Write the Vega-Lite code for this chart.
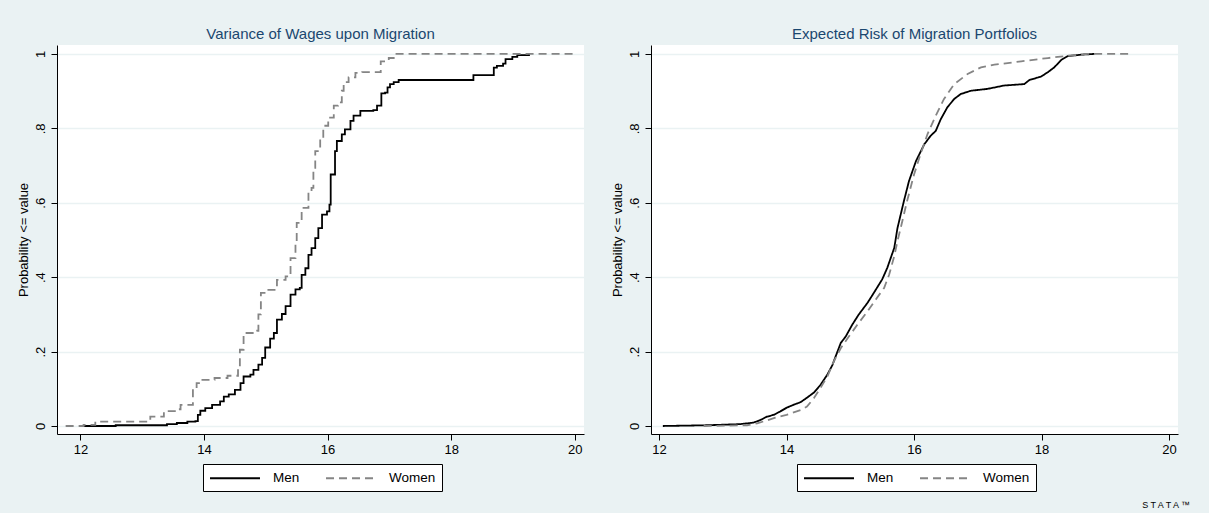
{
  "$schema": "https://vega.github.io/schema/vega-lite/v6.json",
  "background": "#eaf2f3",
  "padding": {"left": 17, "top": 27, "right": 20, "bottom": 3},
  "title": {"text": "S   T   A   T   A   ™", "orient": "bottom", "anchor": "end", "fontSize": 9, "fontWeight": "normal", "color": "black", "offset": 9, "dx": 12, "font": "Liberation Sans"},
  "config": {
    "font": "Liberation Sans",
    "view": {"fill": "white", "stroke": null},
    "concat": {"spacing": 27},
    "axis": {
      "domainColor": "black", "domainWidth": 1, "tickColor": "black", "tickWidth": 1, "tickSize": 6,
      "labelColor": "black", "titleColor": "black", "labelFont": "Liberation Sans", "titleFont": "Liberation Sans",
      "labelFontSize": 13, "titleFontSize": 13, "titleFontWeight": "normal",
      "gridColor": "#eaf2f3", "gridOpacity": 1, "gridWidth": 1.3
    },
    "legend": {"labelFont": "Liberation Sans"}
  },
  "datasets": {
    "wages": [
      {"group": "Men", "value": 12.03, "prob": 0},
      {"group": "Men", "value": 12.57, "prob": 0.002},
      {"group": "Men", "value": 13.40, "prob": 0.005},
      {"group": "Men", "value": 13.56, "prob": 0.008},
      {"group": "Men", "value": 13.73, "prob": 0.012},
      {"group": "Men", "value": 13.86, "prob": 0.013},
      {"group": "Men", "value": 13.90, "prob": 0.03},
      {"group": "Men", "value": 13.94, "prob": 0.041},
      {"group": "Men", "value": 14.02, "prob": 0.048},
      {"group": "Men", "value": 14.13, "prob": 0.057},
      {"group": "Men", "value": 14.26, "prob": 0.066},
      {"group": "Men", "value": 14.32, "prob": 0.079},
      {"group": "Men", "value": 14.40, "prob": 0.085},
      {"group": "Men", "value": 14.50, "prob": 0.097},
      {"group": "Men", "value": 14.59, "prob": 0.115},
      {"group": "Men", "value": 14.64, "prob": 0.133},
      {"group": "Men", "value": 14.75, "prob": 0.138},
      {"group": "Men", "value": 14.80, "prob": 0.151},
      {"group": "Men", "value": 14.88, "prob": 0.165},
      {"group": "Men", "value": 14.94, "prob": 0.183},
      {"group": "Men", "value": 14.99, "prob": 0.211},
      {"group": "Men", "value": 15.07, "prob": 0.235},
      {"group": "Men", "value": 15.13, "prob": 0.25},
      {"group": "Men", "value": 15.18, "prob": 0.286},
      {"group": "Men", "value": 15.26, "prob": 0.301},
      {"group": "Men", "value": 15.32, "prob": 0.322},
      {"group": "Men", "value": 15.40, "prob": 0.353},
      {"group": "Men", "value": 15.48, "prob": 0.367},
      {"group": "Men", "value": 15.55, "prob": 0.371},
      {"group": "Men", "value": 15.58, "prob": 0.406},
      {"group": "Men", "value": 15.64, "prob": 0.424},
      {"group": "Men", "value": 15.69, "prob": 0.46},
      {"group": "Men", "value": 15.74, "prob": 0.478},
      {"group": "Men", "value": 15.80, "prob": 0.505},
      {"group": "Men", "value": 15.85, "prob": 0.532},
      {"group": "Men", "value": 15.91, "prob": 0.568},
      {"group": "Men", "value": 15.99, "prob": 0.577},
      {"group": "Men", "value": 16.03, "prob": 0.595},
      {"group": "Men", "value": 16.05, "prob": 0.676},
      {"group": "Men", "value": 16.12, "prob": 0.739},
      {"group": "Men", "value": 16.15, "prob": 0.766},
      {"group": "Men", "value": 16.23, "prob": 0.784},
      {"group": "Men", "value": 16.28, "prob": 0.797},
      {"group": "Men", "value": 16.37, "prob": 0.82},
      {"group": "Men", "value": 16.42, "prob": 0.834},
      {"group": "Men", "value": 16.53, "prob": 0.847},
      {"group": "Men", "value": 16.74, "prob": 0.849},
      {"group": "Men", "value": 16.80, "prob": 0.861},
      {"group": "Men", "value": 16.87, "prob": 0.894},
      {"group": "Men", "value": 16.93, "prob": 0.896},
      {"group": "Men", "value": 16.97, "prob": 0.91},
      {"group": "Men", "value": 17.01, "prob": 0.919},
      {"group": "Men", "value": 17.07, "prob": 0.924},
      {"group": "Men", "value": 17.15, "prob": 0.93},
      {"group": "Men", "value": 18.36, "prob": 0.943},
      {"group": "Men", "value": 18.69, "prob": 0.963},
      {"group": "Men", "value": 18.74, "prob": 0.968},
      {"group": "Men", "value": 18.84, "prob": 0.974},
      {"group": "Men", "value": 18.88, "prob": 0.986},
      {"group": "Men", "value": 18.99, "prob": 0.992},
      {"group": "Men", "value": 19.07, "prob": 0.997},
      {"group": "Men", "value": 19.26, "prob": 1.0},
      {"group": "Women", "value": 11.76, "prob": 0},
      {"group": "Women", "value": 12.05, "prob": 0.003},
      {"group": "Women", "value": 12.24, "prob": 0.012},
      {"group": "Women", "value": 13.13, "prob": 0.025},
      {"group": "Women", "value": 13.35, "prob": 0.04},
      {"group": "Women", "value": 13.56, "prob": 0.045},
      {"group": "Women", "value": 13.62, "prob": 0.057},
      {"group": "Women", "value": 13.82, "prob": 0.1},
      {"group": "Women", "value": 13.88, "prob": 0.115},
      {"group": "Women", "value": 13.95, "prob": 0.124},
      {"group": "Women", "value": 14.17, "prob": 0.129},
      {"group": "Women", "value": 14.38, "prob": 0.135},
      {"group": "Women", "value": 14.55, "prob": 0.157},
      {"group": "Women", "value": 14.58, "prob": 0.205},
      {"group": "Women", "value": 14.64, "prob": 0.25},
      {"group": "Women", "value": 14.86, "prob": 0.256},
      {"group": "Women", "value": 14.88, "prob": 0.30},
      {"group": "Women", "value": 14.92, "prob": 0.358},
      {"group": "Women", "value": 15.02, "prob": 0.366},
      {"group": "Women", "value": 15.18, "prob": 0.393},
      {"group": "Women", "value": 15.32, "prob": 0.402},
      {"group": "Women", "value": 15.40, "prob": 0.451},
      {"group": "Women", "value": 15.48, "prob": 0.496},
      {"group": "Women", "value": 15.50, "prob": 0.546},
      {"group": "Women", "value": 15.58, "prob": 0.586},
      {"group": "Women", "value": 15.69, "prob": 0.631},
      {"group": "Women", "value": 15.74, "prob": 0.64},
      {"group": "Women", "value": 15.77, "prob": 0.694},
      {"group": "Women", "value": 15.80, "prob": 0.739},
      {"group": "Women", "value": 15.88, "prob": 0.775},
      {"group": "Women", "value": 15.93, "prob": 0.807},
      {"group": "Women", "value": 16.01, "prob": 0.829},
      {"group": "Women", "value": 16.10, "prob": 0.861},
      {"group": "Women", "value": 16.17, "prob": 0.87},
      {"group": "Women", "value": 16.23, "prob": 0.901},
      {"group": "Women", "value": 16.26, "prob": 0.924},
      {"group": "Women", "value": 16.34, "prob": 0.937},
      {"group": "Women", "value": 16.45, "prob": 0.949},
      {"group": "Women", "value": 16.56, "prob": 0.951},
      {"group": "Women", "value": 16.86, "prob": 0.98},
      {"group": "Women", "value": 16.99, "prob": 0.989},
      {"group": "Women", "value": 17.07, "prob": 1.0},
      {"group": "Women", "value": 20.0, "prob": 1.0}
    ],
    "risk": [
      {"group": "Men", "value": 12.06, "prob": 0},
      {"group": "Men", "value": 12.75, "prob": 0.002},
      {"group": "Men", "value": 13.27, "prob": 0.005},
      {"group": "Men", "value": 13.48, "prob": 0.009},
      {"group": "Men", "value": 13.59, "prob": 0.016},
      {"group": "Men", "value": 13.69, "prob": 0.025},
      {"group": "Men", "value": 13.80, "prob": 0.03},
      {"group": "Men", "value": 13.90, "prob": 0.039},
      {"group": "Men", "value": 14.00, "prob": 0.049},
      {"group": "Men", "value": 14.11, "prob": 0.057},
      {"group": "Men", "value": 14.22, "prob": 0.064},
      {"group": "Men", "value": 14.32, "prob": 0.076},
      {"group": "Men", "value": 14.43, "prob": 0.09},
      {"group": "Men", "value": 14.53, "prob": 0.11},
      {"group": "Men", "value": 14.64, "prob": 0.138},
      {"group": "Men", "value": 14.72, "prob": 0.164},
      {"group": "Men", "value": 14.77, "prob": 0.187},
      {"group": "Men", "value": 14.85, "prob": 0.223},
      {"group": "Men", "value": 14.93, "prob": 0.241},
      {"group": "Men", "value": 15.03, "prob": 0.272},
      {"group": "Men", "value": 15.13, "prob": 0.299},
      {"group": "Men", "value": 15.27, "prob": 0.331},
      {"group": "Men", "value": 15.37, "prob": 0.358},
      {"group": "Men", "value": 15.50, "prob": 0.394},
      {"group": "Men", "value": 15.58, "prob": 0.425},
      {"group": "Men", "value": 15.69, "prob": 0.479},
      {"group": "Men", "value": 15.74, "prob": 0.532},
      {"group": "Men", "value": 15.84, "prob": 0.604},
      {"group": "Men", "value": 15.92, "prob": 0.658},
      {"group": "Men", "value": 16.03, "prob": 0.712},
      {"group": "Men", "value": 16.16, "prob": 0.757},
      {"group": "Men", "value": 16.26, "prob": 0.78},
      {"group": "Men", "value": 16.34, "prob": 0.793},
      {"group": "Men", "value": 16.42, "prob": 0.825},
      {"group": "Men", "value": 16.52, "prob": 0.856},
      {"group": "Men", "value": 16.63, "prob": 0.879},
      {"group": "Men", "value": 16.73, "prob": 0.892},
      {"group": "Men", "value": 16.89, "prob": 0.901},
      {"group": "Men", "value": 17.15, "prob": 0.906},
      {"group": "Men", "value": 17.41, "prob": 0.915},
      {"group": "Men", "value": 17.73, "prob": 0.919},
      {"group": "Men", "value": 17.81, "prob": 0.93},
      {"group": "Men", "value": 17.99, "prob": 0.939},
      {"group": "Men", "value": 18.10, "prob": 0.951},
      {"group": "Men", "value": 18.20, "prob": 0.964},
      {"group": "Men", "value": 18.31, "prob": 0.984},
      {"group": "Men", "value": 18.41, "prob": 0.994},
      {"group": "Men", "value": 18.62, "prob": 0.998},
      {"group": "Men", "value": 18.83, "prob": 1.0},
      {"group": "Women", "value": 12.70, "prob": 0},
      {"group": "Women", "value": 13.38, "prob": 0.002},
      {"group": "Women", "value": 13.54, "prob": 0.007},
      {"group": "Women", "value": 13.80, "prob": 0.021},
      {"group": "Women", "value": 14.00, "prob": 0.03},
      {"group": "Women", "value": 14.22, "prob": 0.043},
      {"group": "Women", "value": 14.32, "prob": 0.052},
      {"group": "Women", "value": 14.43, "prob": 0.075},
      {"group": "Women", "value": 14.53, "prob": 0.102},
      {"group": "Women", "value": 14.64, "prob": 0.133},
      {"group": "Women", "value": 14.74, "prob": 0.173},
      {"group": "Women", "value": 14.85, "prob": 0.209},
      {"group": "Women", "value": 14.98, "prob": 0.241},
      {"group": "Women", "value": 15.11, "prob": 0.272},
      {"group": "Women", "value": 15.27, "prob": 0.308},
      {"group": "Women", "value": 15.40, "prob": 0.34},
      {"group": "Women", "value": 15.53, "prob": 0.371},
      {"group": "Women", "value": 15.61, "prob": 0.407},
      {"group": "Women", "value": 15.69, "prob": 0.457},
      {"group": "Women", "value": 15.74, "prob": 0.497},
      {"group": "Women", "value": 15.79, "prob": 0.532},
      {"group": "Women", "value": 15.89, "prob": 0.604},
      {"group": "Women", "value": 16.00, "prob": 0.676},
      {"group": "Women", "value": 16.10, "prob": 0.73},
      {"group": "Women", "value": 16.21, "prob": 0.784},
      {"group": "Women", "value": 16.34, "prob": 0.834},
      {"group": "Women", "value": 16.47, "prob": 0.879},
      {"group": "Women", "value": 16.63, "prob": 0.919},
      {"group": "Women", "value": 16.84, "prob": 0.946},
      {"group": "Women", "value": 17.05, "prob": 0.964},
      {"group": "Women", "value": 17.26, "prob": 0.971},
      {"group": "Women", "value": 17.68, "prob": 0.98},
      {"group": "Women", "value": 18.10, "prob": 0.989},
      {"group": "Women", "value": 18.41, "prob": 0.995},
      {"group": "Women", "value": 18.73, "prob": 1.0},
      {"group": "Women", "value": 19.36, "prob": 1.0}
    ]
  },
  "hconcat": [
    {
      "title": {"text": "Variance of Wages upon Migration", "fontSize": 15, "fontWeight": "normal", "color": "#1a476f", "anchor": "middle", "frame": "group", "offset": 3},
      "width": 527,
      "height": 389,
      "data": {"name": "wages"},
      "mark": {"type": "line", "interpolate": "step-after", "strokeWidth": 1.8},
      "encoding": {
        "x": {"field": "value", "type": "quantitative", "scale": {"domain": [11.62, 20.15], "nice": false, "zero": false}, "axis": {"values": [12, 14, 16, 18, 20], "title": null, "grid": false, "labelPadding": 3}},
        "y": {"field": "prob", "type": "quantitative", "scale": {"domain": [-0.0215, 1.024], "nice": false, "zero": false}, "axis": {"values": [0, 0.2, 0.4, 0.6, 0.8, 1], "title": "Probability <= value", "labelAngle": -90, "labelAlign": "center", "labelBaseline": "bottom", "labelPadding": 4, "titlePadding": 4, "labelExpr": "datum.value == 0 ? '0' : datum.value == 1 ? '1' : replace(format(datum.value, '.1f'), '0.', '.')"}},
        "color": {"field": "group", "type": "nominal", "scale": {"domain": ["Men", "Women"], "range": ["#000000", "#858585"]}, "legend": {"title": null, "orient": "none", "legendX": 146, "legendY": 419, "direction": "horizontal", "symbolType": "M-3.57,0H3.57", "symbolSize": 196, "symbolOffset": 18, "symbolStrokeWidth": 1.8, "labelFontSize": 13.5, "labelColor": "black", "labelOffset": 30, "columnPadding": 22, "padding": 6, "fillColor": "white", "strokeColor": "black"}},
        "strokeDash": {"field": "group", "type": "nominal", "scale": {"domain": ["Men", "Women"], "range": [[1, 0], [8, 5]]}, "legend": {"title": null, "orient": "none", "legendX": 146, "legendY": 419, "direction": "horizontal", "symbolType": "M-3.57,0H3.57", "symbolSize": 196, "symbolOffset": 18, "symbolStrokeWidth": 1.8, "labelFontSize": 13.5, "labelColor": "black", "labelOffset": 30, "columnPadding": 22, "padding": 6, "fillColor": "white", "strokeColor": "black"}}
      }
    },
    {
      "title": {"text": "Expected Risk of Migration Portfolios", "fontSize": 15, "fontWeight": "normal", "color": "#1a476f", "anchor": "middle", "frame": "group", "offset": 3},
      "width": 527,
      "height": 389,
      "data": {"name": "risk"},
      "mark": {"type": "line", "interpolate": "linear", "strokeWidth": 1.8},
      "encoding": {
        "x": {"field": "value", "type": "quantitative", "scale": {"domain": [11.874, 20.14], "nice": false, "zero": false}, "axis": {"values": [12, 14, 16, 18, 20], "title": null, "grid": false, "labelPadding": 3}},
        "y": {"field": "prob", "type": "quantitative", "scale": {"domain": [-0.0215, 1.024], "nice": false, "zero": false}, "axis": {"values": [0, 0.2, 0.4, 0.6, 0.8, 1], "title": "Probability <= value", "labelAngle": -90, "labelAlign": "center", "labelBaseline": "bottom", "labelPadding": 4, "titlePadding": 4, "labelExpr": "datum.value == 0 ? '0' : datum.value == 1 ? '1' : replace(format(datum.value, '.1f'), '0.', '.')"}},
        "color": {"field": "group", "type": "nominal", "scale": {"domain": ["Men", "Women"], "range": ["#000000", "#858585"]}, "legend": {"title": null, "orient": "none", "legendX": 146, "legendY": 419, "direction": "horizontal", "symbolType": "M-3.57,0H3.57", "symbolSize": 196, "symbolOffset": 18, "symbolStrokeWidth": 1.8, "labelFontSize": 13.5, "labelColor": "black", "labelOffset": 30, "columnPadding": 22, "padding": 6, "fillColor": "white", "strokeColor": "black"}},
        "strokeDash": {"field": "group", "type": "nominal", "scale": {"domain": ["Men", "Women"], "range": [[1, 0], [8, 5]]}, "legend": {"title": null, "orient": "none", "legendX": 146, "legendY": 419, "direction": "horizontal", "symbolType": "M-3.57,0H3.57", "symbolSize": 196, "symbolOffset": 18, "symbolStrokeWidth": 1.8, "labelFontSize": 13.5, "labelColor": "black", "labelOffset": 30, "columnPadding": 22, "padding": 6, "fillColor": "white", "strokeColor": "black"}}
      }
    }
  ],
  "resolve": {"scale": {"color": "independent", "strokeDash": "independent"}}
}
